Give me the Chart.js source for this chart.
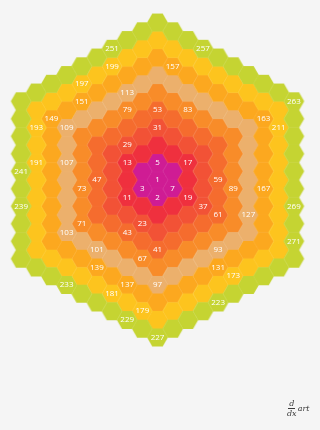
<!DOCTYPE html>
<html>
<head>
<meta charset="utf-8">
<script src="https://cdn.jsdelivr.net/npm/chart.js@4"></script>
<style>
  html, body { margin: 0; padding: 0; background: #f5f5f5; }
  #caja { position: relative; width: 320px; height: 430px; }
  #logo { position: absolute; left: 287px; top: 399px; font-family: 'DejaVu Serif', serif; font-style: italic; color: #3a3a3a; font-size: 8px; line-height: 9px; display: flex; align-items: center; }
  .frac { display: inline-flex; flex-direction: column; align-items: center; margin-right: 1px; }
  .frac .num { border-bottom: 1px solid #3a3a3a; padding: 0 1px; }
</style>
</head>
<body>
<div id="caja">
  <canvas id="myChart" width="320" height="430"></canvas>
  <div id="logo"><span class="frac"><span class="num">d</span><span>dx</span></span><span>art</span></div>
</div>
<script>
// numeros que aparecen escritos en las celdas
const etiquetas = [1, 2, 3, 5, 7, 11, 13, 17, 19, 23, 29, 31, 37, 41, 43, 47, 53, 59, 61, 67, 71, 73, 79, 83, 89, 93, 97, 101, 103, 107, 109, 113, 127, 131, 137, 139, 149, 151, 157, 163, 167, 173, 179, 181, 191, 193, 197, 199, 211, 223, 227, 229, 233, 239, 241, 251, 257, 263, 269, 271]

// color de cada anillo (0 = centro)
const coloresAnillo = ['#cf1c94', '#cf1c94', '#ef303e', '#f25236', '#f56c2e', '#f88c29', '#ecb06c', '#fca81f', '#fdc41e', '#c5d432']

const totalAnillos = 9

// en la imagen no esta el 126: desde el 127 cada numero queda una celda antes
const saltoDesde = 127

// tamaño del hexagono en pixeles y centro de la espiral
const escala = 10.1
const centroX = 157.5
const centroY = 180

const R3 = Math.sqrt(3)
// abajo, abajo-izq, arriba-izq, arriba, arriba-der, abajo-der
const dirs = [[0, -R3], [-1.5, -R3 / 2], [-1.5, R3 / 2], [0, R3], [1.5, R3 / 2], [1.5, -R3 / 2]]

// posicion de la celda p dentro de la espiral
const posicion = (p) => {
    if (p === 1) return { x: 0, y: 0, anillo: 0 }
    let k = 1
    while (3 * k * (k + 1) + 1 < p) k++
    const j = p - (3 * k * (k - 1) + 2)
    const m = ((j - (k - 1)) % (6 * k) + 6 * k) % (6 * k)
    const lado = Math.floor(m / k)
    const t = m % k
    const a = dirs[lado]
    const b = dirs[(lado + 1) % 6]
    return { x: k * a[0] + t * (b[0] - a[0]), y: k * a[1] + t * (b[1] - a[1]), anillo: k }
}

const totalCeldas = 3 * totalAnillos * (totalAnillos + 1) + 1
const celdas = []
for (let p = 1; p <= totalCeldas; p++) {
    const pos = posicion(p)
    const num = p < saltoDesde - 1 ? p : p + 1
    celdas.push({ x: pos.x, y: pos.y, anillo: pos.anillo, num })
}

// un hexagono dibujado por color, para usarlo como pointStyle
const hexCanvas = (color) => {
    const c = document.createElement('canvas')
    const w = Math.ceil(2 * escala) + 2
    const h = Math.ceil(R3 * escala) + 2
    c.width = w
    c.height = h
    const g = c.getContext('2d')
    g.translate(w / 2, h / 2)
    g.beginPath()
    for (let i = 0; i < 6; i++) {
        const ang = Math.PI / 3 * i
        g.lineTo((escala + 0.3) * Math.cos(ang), (escala + 0.3) * Math.sin(ang))
    }
    g.closePath()
    g.fillStyle = color
    g.fill()
    g.strokeStyle = 'rgba(255,255,255,0.05)'
    g.lineWidth = 0.5
    g.stroke()
    return c
}
const hexagonos = coloresAnillo.map(hexCanvas)

const textos = {
    id: 'textos',
    afterDatasetsDraw(chart) {
        const ctx = chart.ctx
        const meta = chart.getDatasetMeta(0)
        ctx.save()
        ctx.fillStyle = '#ffffff'
        ctx.font = '8px "Open Sans"'
        ctx.textAlign = 'center'
        ctx.textBaseline = 'middle'
        meta.data.forEach((el, i) => {
            const celda = chart.data.datasets[0].data[i]
            if (etiquetas.includes(celda.num)) {
                ctx.fillText(String(celda.num), el.x, el.y)
            }
        })
        ctx.restore()
    }
}

const ctx = document.getElementById('myChart').getContext('2d')
new Chart(ctx, {
    type: 'scatter',
    data: {
        datasets: [{
            data: celdas,
            pointStyle: (c) => hexagonos[c.raw ? c.raw.anillo : 0],
            pointRadius: 10,
            pointHoverRadius: 10
        }]
    },
    options: {
        responsive: false,
        animation: false,
        events: [],
        layout: { padding: 0, autoPadding: false },
        plugins: { legend: { display: false }, tooltip: { enabled: false } },
        scales: {
            x: { type: 'linear', display: false, min: -centroX / escala, max: (320 - centroX) / escala },
            y: { type: 'linear', display: false, min: -(430 - centroY) / escala, max: centroY / escala }
        }
    },
    plugins: [textos]
})
</script>
</body>
</html>
